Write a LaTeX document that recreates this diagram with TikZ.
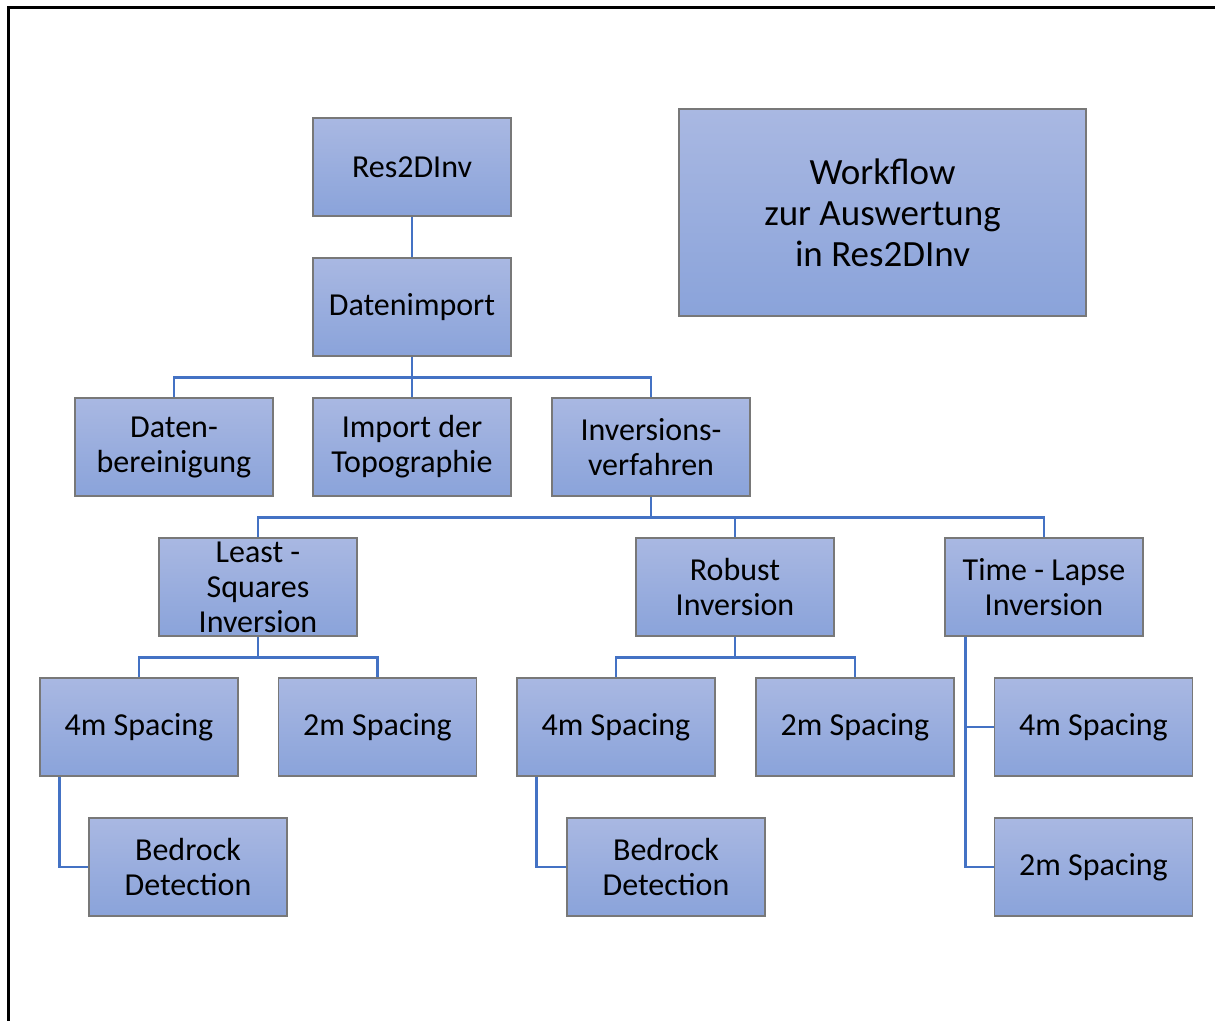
\documentclass[tikz,border=0pt]{standalone}
\usepackage{fontspec}
\setmainfont{Carlito}
\usetikzlibrary{positioning}
\definecolor{boxtop}{RGB}{169,184,226}
\definecolor{boxbottom}{RGB}{138,163,218}
\definecolor{boxline}{RGB}{120,120,120}
\definecolor{connblue}{RGB}{68,114,196}
\begin{document}
\begin{tikzpicture}[x=1pt, y=-1pt, node distance=140pt,
	box/.style={rectangle, draw=boxline, line width=1.2pt, top color=boxtop, bottom color=boxbottom, minimum width=198pt, minimum height=98pt, inner sep=0pt, align=center, font=\fontsize{32}{35}\selectfont},
	conn/.style={draw=connblue, line width=2.6pt}]
		\useasboundingbox (0,0) rectangle (1215,1020);
		\draw[line width=3pt, line cap=rect] (8,1030) -- (8,7) -- (1230,7);
		
		\node[box] (res) at (412,167) {Res2DInv};
		\node[box, below of=res] (import) {Datenimport};
		\node[box, below of=import] (topo) {Import der\\Topographie};
		\node[box] (bereinigung) at (174,447) {Daten-\\bereinigung};
		\node[box] (inversion) at (651,447) {Inversions-\\verfahren};
		\node[box] (least) at (258,587) {Least -\\Squares\\Inversion};
		\node[box] (robust) at (735,587) {Robust\\Inversion};
		\node[box] (lapse) at (1044,587) {Time - Lapse\\Inversion};
		\node[box] (lsfour) at (139,727) {4m Spacing};
		\node[box] (lstwo) at (377.5,727) {2m Spacing};
		\node[box, below of=lsfour, xshift=49pt] (lsbedrock) {Bedrock\\Detection};
		\node[box] (rbfour) at (616,727) {4m Spacing};
		\node[box] (rbtwo) at (855,727) {2m Spacing};
		\node[box, below of=rbfour, xshift=50pt] (rbbedrock) {Bedrock\\Detection};
		\node[box] (tlfour) at (1093.5,727) {4m Spacing};
		\node[box, below of=tlfour] (tltwo) {2m Spacing};
		\node[box, minimum width=407pt, minimum height=207pt, font=\fontsize{37}{41}\selectfont] (title) at (882.5,212.5) {Workflow\\zur Auswertung\\in Res2DInv};
		
		\draw[conn] (res) -- (import);
		\draw[conn] (import) -- (topo);
		\draw[conn] (import.south) -- ++(0,21) coordinate (busa);
		\draw[conn] (busa) -| (bereinigung.north);
		\draw[conn] (busa) -| (inversion.north);
		\draw[conn] (inversion.south) -- ++(0,21) coordinate (busb);
		\draw[conn] (busb) -| (least.north);
		\draw[conn] (busb) -| (robust.north);
		\draw[conn] (busb) -| (lapse.north);
		\draw[conn] (least.south) -- ++(0,21) coordinate (busc);
		\draw[conn] (busc) -| (lsfour.north);
		\draw[conn] (busc) -| (lstwo.north);
		\draw[conn] (robust.south) -- ++(0,21) coordinate (busd);
		\draw[conn] (busd) -| (rbfour.north);
		\draw[conn] (busd) -| (rbtwo.north);
		\draw[conn] ([xshift=21pt]lapse.south west) |- (tlfour.west);
		\draw[conn] ([xshift=21pt]lapse.south west) |- (tltwo.west);
		\draw[conn] ([xshift=20pt]lsfour.south west) |- (lsbedrock.west);
		\draw[conn] ([xshift=20pt]rbfour.south west) |- (rbbedrock.west);
	\end{tikzpicture}
\end{document}
